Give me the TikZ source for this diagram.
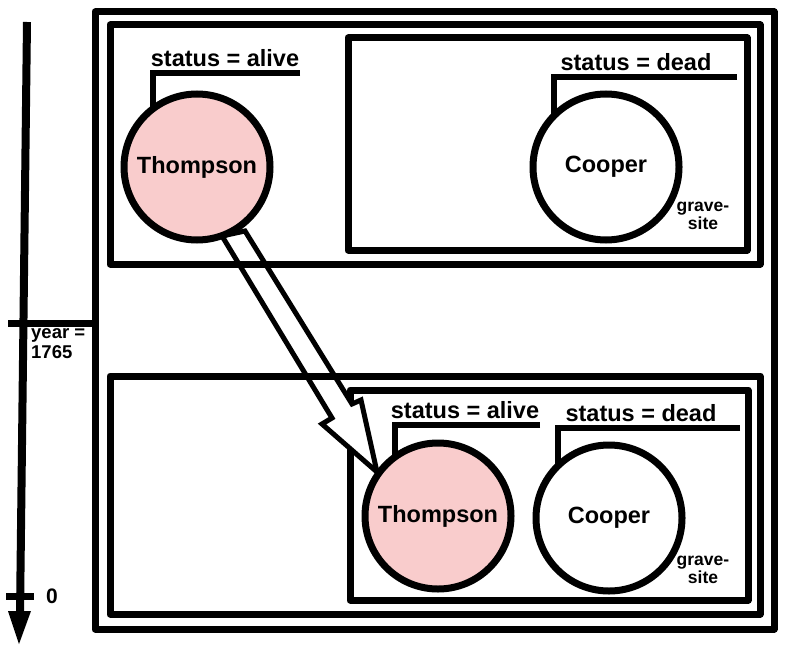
\documentclass[tikz,border=0pt]{standalone}
\usepackage{fontspec}
\setmainfont{Liberation Sans}
\begin{document}
\begin{tikzpicture}[x=1pt,y=-1pt,
  box/.style={draw=black,line width=7pt,line join=round},
  person/.style={circle,draw=black,line width=7pt,minimum size=146pt,inner sep=0pt,
     font=\fontsize{23.5}{26}\selectfont\bfseries},
  alive/.style={person,fill=pinkfill},
  dead/.style={person,fill=white},
  bracket/.style={draw=black,line width=6pt,line join=miter},
  statlab/.style={font=\fontsize{23.5}{26}\selectfont\bfseries,inner sep=0pt},
  smalllab/.style={font=\fontsize{17.5}{18}\selectfont\bfseries,align=center,inner sep=0pt},
  yearlab/.style={font=\fontsize{18.5}{20}\selectfont\bfseries,align=left,inner sep=0pt},
  bigarrow/.style={draw=black,fill=white,line width=5pt,line join=miter}
]
\definecolor{pinkfill}{RGB}{249,204,204}
\useasboundingbox (0,0) rectangle (786,650);

% time axis
\coordinate (axtop) at (27,22);
\coordinate (axbot) at (20,614);
\draw[line width=8pt] (axtop) -- (axbot);
\fill (8,611) -- (31,611) -- (19,644) -- cycle;
\coordinate (t1a) at (8,323);
\coordinate (t1b) at (97,323);
\draw[line width=7pt] (t1a) -- (t1b);
\coordinate (t0a) at (6,596);
\coordinate (t0b) at (34,596);
\draw[line width=7pt] (t0a) -- (t0b);
\node[yearlab,anchor=north west] (year) at (31,328) {year =\\1765};
\node[font=\fontsize{21}{23}\selectfont\bfseries,inner sep=0pt] (zero) at (52,596) {0};

% grave-site boxes (under the arrow)
\draw[box] (348,38) rectangle (747,250);
\draw[box] (350,390) rectangle (748,600);

% brackets (circles drawn over their lower ends)
\node[statlab,anchor=base] (sA) at (225,67) {status = alive};
\node[statlab,anchor=base] (dA) at (636,71) {status = dead};
\node[statlab,anchor=base] (sB) at (465,418) {status = alive};
\node[statlab,anchor=base] (dB) at (641,421) {status = dead};
\draw[bracket] (300,73) -- (153,73) -- (153,125);
\draw[bracket] (737,77) -- (554,77) -- (554,130);
\draw[bracket] (540,425) -- (395,425) -- (395,475);
\draw[bracket] (740,428) -- (558,428) -- (558,480);

% the hollow arrow
\draw[bigarrow] (222,236) -- (332,418) -- (322,424) -- (377,472)
   -- (361,400) -- (352,404) -- (245,231) -- cycle;

% period boxes
\draw[box] (110,25) rectangle (760,264);
\draw[box] (110,376) rectangle (760,614);
\draw[box] (95,12) rectangle (774,629);

% persons
\node[alive] (tA) at (197,167) {Thompson};
\node[dead]  (cA) at (606,167) {Cooper};
\node[alive] (tB) at (438,516) {Thompson};
\node[dead]  (cB) at (609,518) {Cooper};

\node[smalllab] (gA) at (703,216) {grave-\\site};
\node[smalllab] (gB) at (703,570) {grave-\\site};
\end{tikzpicture}
\end{document}
